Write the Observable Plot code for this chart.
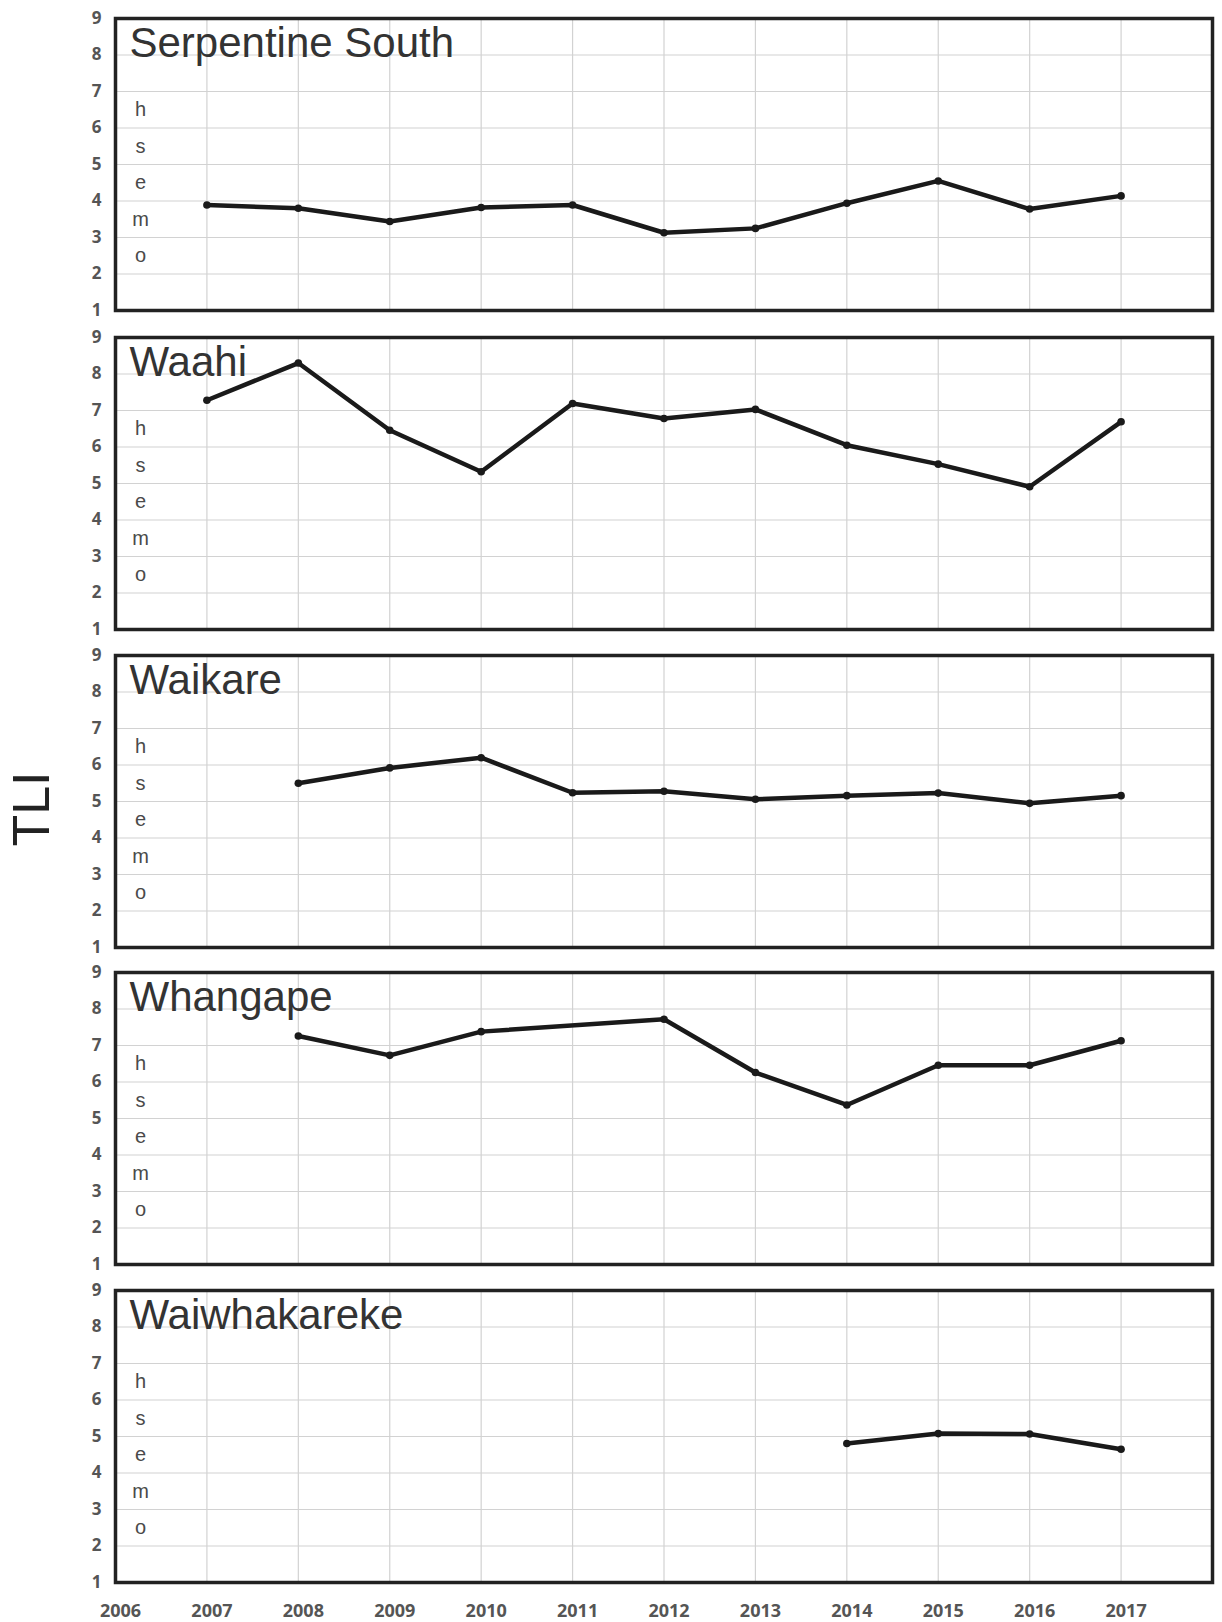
<!DOCTYPE html>
<html>
<head>
<meta charset="utf-8">
<script src="https://cdn.jsdelivr.net/npm/d3@7"></script>
<script src="https://cdn.jsdelivr.net/npm/@observablehq/plot@0.6"></script>
<style>
  html, body { margin: 0; padding: 0; background: #fff; }
  #wrap { position: relative; width: 1222px; height: 1622px; overflow: hidden; background: #fff; }
  .panel { position: absolute; left: 0; }
  #tli { position: absolute; left: 31px; top: 809px; transform: translate(-50%, -50%) rotate(-90deg);
         font-family: "Liberation Sans", Arial, sans-serif; font-size: 52px; color: #222; white-space: nowrap; }
</style>
</head>
<body>
<div id="wrap"><div id="tli">TLI</div></div>
<script>
// ---- data ----
const years = [2007, 2008, 2009, 2010, 2011, 2012, 2013, 2014, 2015, 2016, 2017];
const lakes = ["Serpentine South", "Waahi", "Waikare", "Whangape", "Waiwhakareke"];
const serpentineSouth = [3.89, 3.80, 3.44, 3.82, 3.89, 3.13, 3.25, 3.94, 4.55, 3.78, 4.14];
const waahi           = [7.28, 8.30, 6.46, 5.32, 7.19, 6.78, 7.03, 6.05, 5.53, 4.91, 6.69];
const waikare         = [null, 5.50, 5.92, 6.20, 5.24, 5.28, 5.06, 5.16, 5.23, 4.95, 5.16];
const whangape        = [null, 7.26, 6.73, 7.38, null, 7.72, 6.26, 5.37, 6.46, 6.46, 7.13];
const waiwhakareke    = [null, null, null, null, null, null, null, 4.81, 5.08, 5.07, 4.65];
const yTicks = [1, 2, 3, 4, 5, 6, 7, 8, 9];
const xTicks = [2006, 2007, 2008, 2009, 2010, 2011, 2012, 2013, 2014, 2015, 2016, 2017];
const trophicLetters = ["h", "s", "e", "m", "o"];

const series = [serpentineSouth, waahi, waikare, whangape, waiwhakareke];
const panelTops = [17.6, 337.3, 655, 971.6, 1290.3];
const wrap = document.getElementById("wrap");

lakes.forEach((name, k) => {
  const rows = years.map((y, i) => ({year: y, tli: series[k][i]})).filter(d => d.tli != null);
  const last = k === lakes.length - 1;
  const mt = 12, mb = last ? 44 : 12;
  const innerH = 292;
  const marks = [
    Plot.ruleY(yTicks.slice(1, -1), {stroke: "#d2d2d2", strokeWidth: 1.2}),
    Plot.ruleX(years, {stroke: "#d2d2d2", strokeWidth: 1.2}),
    Plot.axisY({ticks: yTicks, tickSize: 0, tickPadding: 14, fontSize: 17, fontWeight: "bold",
                fontFamily: "'Open Sans', sans-serif", color: "#555", label: null}),
    Plot.text([name], {frameAnchor: "top-left", textAnchor: "start", lineAnchor: "top", dx: 14, dy: 9,
                       fontSize: 42, fill: "#333", fontFamily: "'Liberation Sans', Arial, sans-serif"}),
    Plot.text(trophicLetters, {x: () => 2006, y: (d, i) => 6.5 - i, text: d => d, dx: 25,
                               fontSize: 20, fill: "#4a4a4a", fontFamily: "'Liberation Sans', Arial, sans-serif"}),
    Plot.line(rows, {x: "year", y: "tli", stroke: "#1a1a1a", strokeWidth: 4.5, strokeLinejoin: "round"}),
    Plot.dot(rows, {x: "year", y: "tli", r: 3.8, fill: "#1a1a1a"}),
    Plot.frame({stroke: "#222", strokeWidth: 3.5})
  ];
  if (last) {
    marks.push(Plot.axisX({ticks: xTicks, tickSize: 0, tickPadding: 22, tickFormat: d => String(d), fontSize: 18,
                           fontWeight: "bold", fontFamily: "'Open Sans', sans-serif", color: "#555", dx: 5, label: null}));
  }
  const chart = Plot.plot({
    width: 1222,
    height: innerH + mt + mb,
    marginLeft: 115,
    marginRight: 10,
    marginTop: mt,
    marginBottom: mb,
    x: last ? {domain: [2006, 2018]} : {domain: [2006, 2018], axis: null},
    y: {domain: [1, 9]},
    style: {background: "transparent", overflow: "visible"},
    marks
  });
  const div = document.createElement("div");
  div.className = "panel";
  div.style.top = (panelTops[k] - mt) + "px";
  div.appendChild(chart);
  wrap.appendChild(div);
});
</script>
</body>
</html>
